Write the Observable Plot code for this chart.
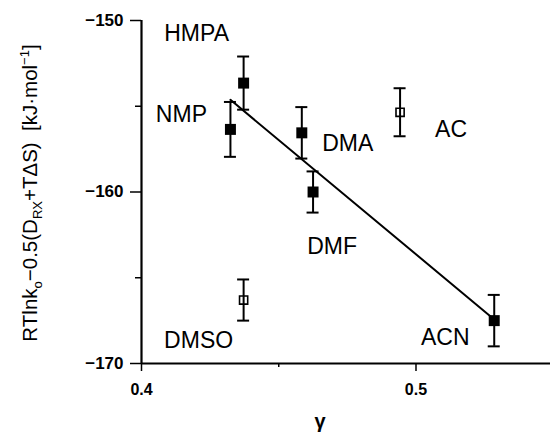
<!DOCTYPE html>
<html>
<head>
<meta charset="utf-8">
<script src="https://cdn.jsdelivr.net/npm/d3@7"></script>
<script src="https://cdn.jsdelivr.net/npm/@observablehq/plot@0.6"></script>
<style>
  html, body { margin: 0; padding: 0; background: white; }
</style>
</head>
<body>
<div id="chart"></div>
<script>
// ---- data ----
const solvents = ["HMPA", "NMP", "DMA", "DMF", "AC", "DMSO", "ACN"];
const gamma    = [0.4372, 0.4324, 0.4584, 0.4625, 0.4942, 0.4372, 0.5285];
const energy   = [-153.65, -156.35, -156.55, -160.0, -155.35, -166.3, -167.5];
const errorBar = [1.55, 1.6, 1.5, 1.2, 1.4, 1.2, 1.5];
const inFit    = [true, true, true, true, false, false, true]; // filled = used in fit

const xTicks = [0.4, 0.5];
const xMinorTicks = [0.45];
const yTicks = [-150, -160, -170];
const yMinorTicks = [-155, -165];

// label placement (pixel offsets from each point)
const labelOffsets = [[-47, -49], [-49, -15], [46, 11], [19, 55], [51, 17], [-45, 41], [-49, 17]];

const rows = solvents.map((s, i) => ({
  solvent: s, gamma: gamma[i], energy: energy[i], err: errorBar[i], filled: inFit[i]
}));
const filledRows = rows.filter(d => d.filled);
const openRows = rows.filter(d => !d.filled);

const font = "'Liberation Sans', Arial, Helvetica, sans-serif";

const plot = Plot.plot({
  width: 550,
  height: 436,
  marginLeft: 141,
  marginRight: 0,
  marginTop: 20,
  marginBottom: 73,
  style: { fontFamily: font, background: "white", color: "black" },
  x: { domain: [0.4, 0.549] },
  y: { domain: [-170, -150] },
  marks: [
    Plot.axisX(xTicks, { tickSize: 8, tickPadding: 12, tickFormat: d => d.toFixed(1), fontSize: 16, fontWeight: "bold", label: null, strokeWidth: 1.5 }),
    Plot.axisX(xMinorTicks, { tickSize: 4, tickFormat: () => "", label: null, strokeWidth: 1.5 }),
    Plot.axisY(yTicks, { tickSize: 11, tickPadding: 7, tickFormat: d => "\u2212" + Math.abs(d), fontSize: 17, fontWeight: "bold", label: null, strokeWidth: 1.5 }),
    Plot.axisY(yMinorTicks, { tickSize: 6, tickFormat: () => "", label: null, strokeWidth: 1.5 }),
    Plot.ruleX([0.4], { strokeWidth: 2.2 }),
    Plot.ruleY([-170], { strokeWidth: 2.2 }),
    // regression line through the filled points
    Plot.linearRegressionY(filledRows, { x: "gamma", y: "energy", ci: 0, stroke: "black", strokeWidth: 2 }),
    // error bars
    Plot.ruleX(rows, { x: "gamma", y1: d => d.energy - d.err, y2: d => d.energy + d.err, strokeWidth: 2 }),
    Plot.ruleY(rows, { y: d => d.energy + d.err, x1: "gamma", x2: "gamma", insetLeft: -6, insetRight: -6, strokeWidth: 2 }),
    Plot.ruleY(rows, { y: d => d.energy - d.err, x1: "gamma", x2: "gamma", insetLeft: -6, insetRight: -6, strokeWidth: 2 }),
    // markers
    Plot.dot(filledRows, { x: "gamma", y: "energy", symbol: "square", r: 6.2, fill: "black", stroke: "none" }),
    Plot.dot(openRows, { x: "gamma", y: "energy", symbol: "square", r: 4.6, fill: "none", stroke: "black", strokeWidth: 1.6 }),
    // solvent labels
    ...rows.map((d, i) => Plot.text([d], {
      x: "gamma", y: "energy", text: "solvent",
      dx: labelOffsets[i][0], dy: labelOffsets[i][1],
      fontSize: 23, textAnchor: "middle", lineAnchor: "middle", fill: "black"
    }))
  ]
});

document.getElementById("chart").appendChild(plot);

// axis titles with sub/superscripts
const svg = d3.select(plot);
const yl = svg.append("text")
  .attr("transform", "translate(37,193) rotate(-90)")
  .attr("text-anchor", "middle")
  .attr("font-family", font)
  .attr("font-size", 20.5)
  .attr("fill", "black");
yl.append("tspan").text("RTlnk");
yl.append("tspan").attr("font-size", 13).attr("dy", 5).text("o");
yl.append("tspan").attr("dy", -5).text("\u22120.5(D");
yl.append("tspan").attr("font-size", 13).attr("dy", 5).text("RX");
yl.append("tspan").attr("dy", -5).text("+T\u0394S)  [kJ\u00b7mol");
yl.append("tspan").attr("font-size", 13).attr("dy", -8).text("\u22121");
yl.append("tspan").attr("dy", 8).text("]");

svg.append("text")
  .attr("x", 320).attr("y", 428)
  .attr("text-anchor", "middle")
  .attr("font-family", font)
  .attr("font-size", 20)
  .attr("font-weight", "bold")
  .attr("fill", "black")
  .text("\u03b3");
</script>
</body>
</html>
